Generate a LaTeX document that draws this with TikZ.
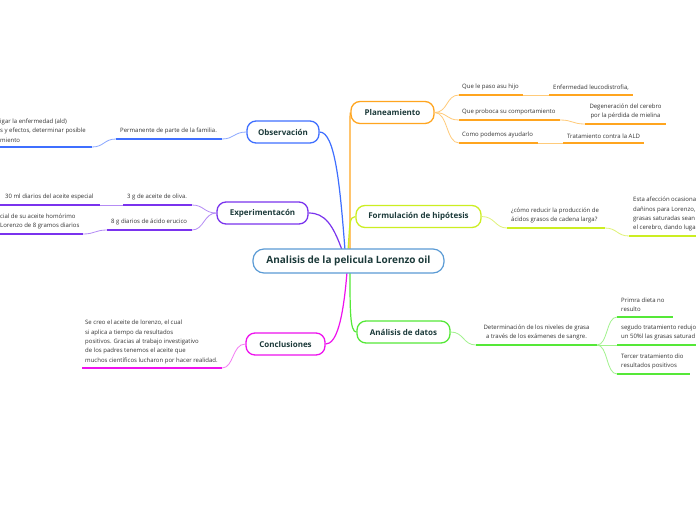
\documentclass[tikz,border=0pt]{standalone}
\usepackage{fontspec}
\setmainfont{Open Sans}
\usetikzlibrary{calc,backgrounds}
\definecolor{cOrange}{HTML}{FFA51F}
\definecolor{cOrangeL}{HTML}{FFCB7A}
\definecolor{cBlue}{HTML}{3F6FFF}
\definecolor{cBlueL}{HTML}{8DA9FF}
\definecolor{cPurple}{HTML}{7A33EE}
\definecolor{cPurpleL}{HTML}{B58CF5}
\definecolor{cYellow}{HTML}{CCEE22}
\definecolor{cYellowL}{HTML}{E0F27A}
\definecolor{cGreen}{HTML}{55E838}
\definecolor{cGreenL}{HTML}{A2F28E}
\definecolor{cMagenta}{HTML}{EE11EE}
\definecolor{cMagentaL}{HTML}{F47CF4}
\definecolor{cCentral}{HTML}{5B9BD5}
\definecolor{cTitle}{HTML}{1C3A3A}
\definecolor{cText}{HTML}{333333}
\tikzset{
  mainbox/.style={draw=#1, line width=1.3pt, rounded corners=9pt, fill=white,
    minimum height=22pt, inner xsep=10pt, font=\fontsize{8}{9}\selectfont\bfseries, text=cTitle},
  centralbox/.style={draw=cCentral, line width=1.2pt, rounded corners=11pt, fill=white,
    minimum height=24pt, minimum width=191pt, font=\fontsize{10}{12}\selectfont\bfseries, text=cTitle},
  leaf/.style={anchor=south west, inner sep=0pt, font=\fontsize{6}{9.4}\selectfont, text=cText, align=left},
  leafc/.style={anchor=south, inner sep=0pt, font=\fontsize{6}{9.4}\selectfont, text=cText, align=center},
  uline/.style={draw=#1, line width=1.6pt},
  conn/.style={draw=#1, line width=0.8pt},
  trunk/.style={draw=#1, line width=1.2pt},
}
\begin{document}
\begin{tikzpicture}[x=1pt,y=-1pt]
\useasboundingbox (0,0) rectangle (696,520);

% ---------- main nodes ----------
\node[centralbox] (central) at (348.5,261) {Analisis de la pelicula Lorenzo oil};
\node[mainbox=cOrange, minimum width=83pt] (plan) at (392.5,112.5) {Planeamiento};
\node[mainbox=cYellow, minimum width=125pt] (form) at (418.5,216.5) {Formulación de hipótesis};
\node[mainbox=cGreen, minimum width=93pt] (anal) at (403.5,332) {Análisis de datos};
\node[mainbox=cBlue, minimum width=72pt] (obs) at (283,132) {Observación};
\node[mainbox=cPurple, minimum width=91pt] (exp) at (262.5,213) {Experimentacón};
\node[mainbox=cMagenta, minimum width=79pt] (conc) at (285.5,344) {Conclusiones};

\coordinate (cTop1) at (350,250);
\coordinate (cTop2) at (345,250);
\coordinate (cTop3) at (342,250);
\coordinate (cTop4) at (348,250);
\coordinate (cBot1) at (350,272);
\coordinate (cBot2) at (347,272);

\begin{scope}[on background layer]
\fill[white] (0,0) rectangle (696,520);
\draw[trunk=cOrange] (cTop1) -- (350,124) .. controls (350,116) .. (plan.west);
\draw[trunk=cBlue] (cTop2) .. controls (340,185) and (335,132) .. (obs.east);
\draw[trunk=cPurple] (cTop3) .. controls (333,225) and (325,213) .. (exp.east);
\draw[trunk=cYellow] (cTop4) .. controls (350,225) and (349,216.5) .. (form.west);
\draw[trunk=cGreen] (cBot1) .. controls (350,310) and (350,332) .. (anal.west);
\draw[trunk=cMagenta] (cBot2) .. controls (343,322) and (336,344) .. (conc.east);
\end{scope}

% ---------- Planeamiento ----------
\coordinate (p1a) at (459,95);  \coordinate (p1b) at (523,95);
\coordinate (p11a) at (549,95); \coordinate (p11b) at (633,95);
\coordinate (p2a) at (459,120); \coordinate (p2b) at (560,120);
\coordinate (p21a) at (585,124); \coordinate (p21b) at (666,124);
\coordinate (p3a) at (459,143); \coordinate (p3b) at (538,143);
\coordinate (p31a) at (563,143); \coordinate (p31b) at (644,143);
\draw[conn=cOrangeL] (plan.east) .. controls (448,112.5) and (446,95) .. (p1a);
\draw[conn=cOrangeL] (plan.east) .. controls (448,112.5) and (446,120) .. (p2a);
\draw[conn=cOrangeL] (plan.east) .. controls (448,112.5) and (446,143) .. (p3a);
\draw[conn=cOrangeL] (p1b) -- (p11a);
\draw[conn=cOrangeL] (p2b) .. controls (573,120) and (572,124) .. (p21a);
\draw[conn=cOrangeL] (p3b) -- (p31a);
\draw[uline=cOrange] (p1a) -- (p1b);
\draw[uline=cOrange] (p11a) -- (p11b);
\draw[uline=cOrange] (p2a) -- (p2b);
\draw[uline=cOrange] (p21a) -- (p21b);
\draw[uline=cOrange] (p3a) -- (p3b);
\draw[uline=cOrange] (p31a) -- (p31b);
\node[leaf] (t1) at ([xshift=3pt,yshift=4.5pt]p1a) {Que le paso asu hijo};
\node[leaf] (t11) at ([xshift=4pt,yshift=4.5pt]p11a) {Enfermedad leucodistrofia,};
\node[leaf] (t2) at ([xshift=3pt,yshift=4.5pt]p2a) {Que proboca su comportamiento};
\node[leafc] (t21) at ([yshift=4.5pt]$(p21a)!0.5!(p21b)$) {Degeneración del cerebro\\por la pérdida de mielina};
\node[leaf] (t3) at ([xshift=3pt,yshift=4.5pt]p3a) {Como podemos ayudarlo};
\node[leaf] (t31) at ([xshift=4pt,yshift=4.5pt]p31a) {Tratamiento contra la ALD};

% ---------- Formulación ----------
\coordinate (f1a) at (507,228); \coordinate (f1b) at (605,228);
\coordinate (f11a) at (629,236); \coordinate (f11b) at (697,236);
\draw[conn=cYellowL] (form.east) .. controls (495,216.5) and (495,228) .. (f1a);
\draw[conn=cYellowL] (f1b) .. controls (617,228) and (617,236) .. (f11a);
\draw[uline=cYellow] (f1a) -- (f1b);
\draw[uline=cYellow] (f11a) -- (f11b);
\node[leaf] (tf1) at ([xshift=4pt,yshift=4.5pt]f1a) {¿cómo reducir la producción de\\ácidos grasos de cadena larga?};
\node[leaf] (tf11) at ([xshift=4pt,yshift=4.5pt]f11a) {Esta afección ocasiona\\dañinos para Lorenzo,\\grasas saturadas sean\\el cerebro, dando luga};

% ---------- Análisis de datos ----------
\coordinate (a1a) at (476,345); \coordinate (a1b) at (597,345);
\coordinate (a11a) at (617,317); \coordinate (a11b) at (673,317);
\coordinate (a12a) at (617,345); \coordinate (a12b) at (697,345);
\coordinate (a13a) at (617,374); \coordinate (a13b) at (690,374);
\draw[conn=cGreenL] (anal.east) .. controls (464,332) and (463,345) .. (a1a);
\draw[conn=cGreenL] (a1b) .. controls (608,345) and (606,317) .. (a11a);
\draw[conn=cGreenL] (a1b) -- (a12a);
\draw[conn=cGreenL] (a1b) .. controls (608,345) and (606,374) .. (a13a);
\draw[uline=cGreen] (a1a) -- (a1b);
\draw[uline=cGreen] (a11a) -- (a11b);
\draw[uline=cGreen] (a12a) -- (a12b);
\draw[uline=cGreen] (a13a) -- (a13b);
\node[leafc] (ta1) at ([yshift=4.5pt]$(a1a)!0.5!(a1b)$) {Determinación de los niveles de grasa\\a través de los exámenes de sangre.};
\node[leaf] (ta11) at ([xshift=4pt,yshift=5pt]a11a) {Primra dieta no\\resulto};
\node[leaf] (ta12) at ([xshift=4pt,yshift=4.5pt]a12a) {segudo tratamiento redujo\\un 50\%l las grasas saturad};
\node[leaf] (ta13) at ([xshift=4pt,yshift=4.5pt]a13a) {Tercer tratamiento dio\\resultados positivos};

% ---------- Observación ----------
\coordinate (o1a) at (116,139); \coordinate (o1b) at (222,139);
\coordinate (o11a) at (-2,147); \coordinate (o11b) at (92,147);
\draw[conn=cBlueL] (obs.west) .. controls (234,132) and (234,139) .. (o1b);
\draw[conn=cBlueL] (o1a) .. controls (104,139) and (104,147) .. (o11b);
\draw[uline=cBlue] (o1a) -- (o1b);
\draw[uline=cBlue] (o11a) -- (o11b);
\node[leaf] (to1) at ([xshift=4pt,yshift=4.5pt]o1a) {Permanente de parte de la familia.};
\node[leaf] (to11) at ([xshift=2pt,yshift=4.5pt]o11a) {igar la enfermedad (ald)\\s y efectos, determinar posible\\miento};

% ---------- Experimentación ----------
\coordinate (e1a) at (123,205); \coordinate (e1b) at (192,205);
\coordinate (e11a) at (-2,205); \coordinate (e11b) at (100,205);
\coordinate (e2a) at (107,230); \coordinate (e2b) at (192,230);
\coordinate (e21a) at (-2,234); \coordinate (e21b) at (83,234);
\draw[conn=cPurpleL] (exp.west) .. controls (204,213) and (204,205) .. (e1b);
\draw[conn=cPurpleL] (exp.west) .. controls (204,213) and (204,230) .. (e2b);
\draw[conn=cPurpleL] (e1a) -- (e11b);
\draw[conn=cPurpleL] (e2a) .. controls (95,230) and (95,234) .. (e21b);
\draw[uline=cPurple] (e1a) -- (e1b);
\draw[uline=cPurple] (e11a) -- (e11b);
\draw[uline=cPurple] (e2a) -- (e2b);
\draw[uline=cPurple] (e21a) -- (e21b);
\node[leaf] (te1) at ([xshift=4pt,yshift=4.5pt]e1a) {3 g de aceite de oliva.};
\node[leaf] (te11) at ([xshift=7pt,yshift=4.5pt]e11a) {30 ml diarios del aceite especial};
\node[leaf] (te2) at ([xshift=4pt,yshift=4.5pt]e2a) {8 g diarios de ácido erucico};
\node[leaf] (te21) at ([xshift=2pt,yshift=4.5pt]e21a) {cial de su aceite homórimo\\Lorenzo de 8 gramos diarios};

% ---------- Conclusiones ----------
\coordinate (c1a) at (82,368); \coordinate (c1b) at (222,368);
\draw[conn=cMagentaL] (conc.west) .. controls (232,344) and (234,368) .. (c1b);
\draw[uline=cMagenta] (c1a) -- (c1b);
\node[leaf] (tc1) at ([xshift=3pt,yshift=4pt]c1a) {Se creo el aceite de lorenzo, el cual\\si aplica a tiempo da resultados\\positivos. Gracias al trabajo investigativo\\de los padres tenemos el aceite que\\muchos científicos lucharon por hacer realidad.};
\end{tikzpicture}
\end{document}
